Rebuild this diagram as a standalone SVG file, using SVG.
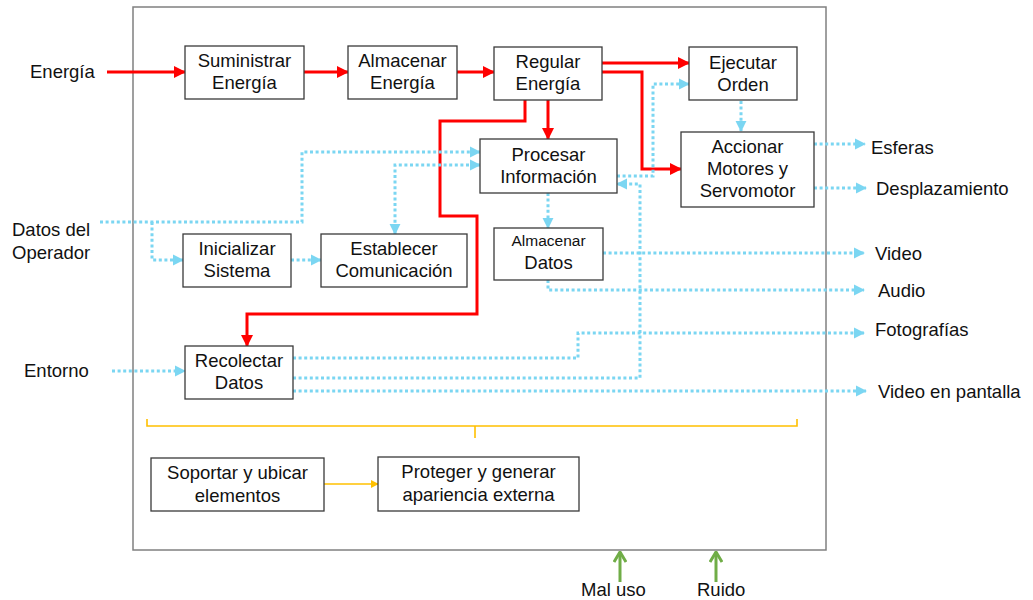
<svg xmlns="http://www.w3.org/2000/svg" width="1033" height="600" viewBox="0 0 1033 600">
<style>
text{font-family:"Liberation Sans",Arial,sans-serif;font-size:18.5px;fill:#111;text-anchor:middle}
.lbl{text-anchor:start}
.box{fill:#fff;stroke:#3a3a3a;stroke-width:1.3}
.red{fill:none;stroke:#ff0000;stroke-width:3}
.blue{fill:none;stroke:#7bd6f2;stroke-width:3;stroke-dasharray:3 2.6}
.yel{fill:none;stroke:#ffc000;stroke-width:1.6}
.grn{fill:none;stroke:#70ad47;stroke-width:3}
</style>
<defs>
<marker id="ar" viewBox="0 0 12 12" refX="11" refY="6" markerWidth="12" markerHeight="12" markerUnits="userSpaceOnUse" orient="auto"><path d="M0,0 L12,6 L0,12 z" fill="#ff0000"/></marker>
<marker id="ab" viewBox="0 0 12 12" refX="11" refY="6" markerWidth="11" markerHeight="12" markerUnits="userSpaceOnUse" orient="auto-start-reverse"><path d="M0,0 L12,6 L0,12 z" fill="#7bd6f2"/></marker>
<marker id="ay" viewBox="0 0 10 10" refX="9" refY="5" markerWidth="8" markerHeight="8" markerUnits="userSpaceOnUse" orient="auto"><path d="M0,0 L10,5 L0,10 z" fill="#ffc000"/></marker>
<marker id="ag" viewBox="0 0 12 14" refX="11" refY="7" markerWidth="12" markerHeight="14" markerUnits="userSpaceOnUse" orient="auto"><path d="M1,1 L11,7 L1,13" fill="none" stroke="#70ad47" stroke-width="3"/></marker>
</defs>
<rect id="frame" x="133" y="7" width="693" height="543" fill="#fff" stroke="#808080" stroke-width="1.5"/>
<g id="connectors">
<path class="red" d="M107,72 L185,72" marker-end="url(#ar)"/>
<path class="red" d="M304,72 L348,72" marker-end="url(#ar)"/>
<path class="red" d="M457,72 L494,72" marker-end="url(#ar)"/>
<path class="red" d="M602,63 L689,63" marker-end="url(#ar)"/>
<path class="red" d="M602,72 L642,72 L642,169 L681,169" marker-end="url(#ar)"/>
<path class="red" d="M548,100 L548,139" marker-end="url(#ar)"/>
<path class="red" d="M525,100 L525,121 L440,121 L440,216 L477,216 L477,314 L247,314 L247,346" marker-end="url(#ar)"/>
<path class="blue" d="M100,222 L302,222 L302,152 L480,152" marker-end="url(#ab)"/>
<path class="blue" d="M152,222 L152,260 L183,260" marker-end="url(#ab)"/>
<path class="blue" d="M291,260 L321,260" marker-end="url(#ab)"/>
<path class="blue" d="M395,234 L395,165 L480,165" marker-start="url(#ab)" marker-end="url(#ab)"/>
<path class="blue" d="M548,193 L548,228" marker-end="url(#ab)"/>
<path class="blue" d="M741,101 L741,131" marker-end="url(#ab)"/>
<path class="blue" d="M617,176 L653,176 L653,84 L689,84" marker-end="url(#ab)"/>
<path class="blue" d="M293,378 L640,378 L640,184 L617,184" marker-end="url(#ab)"/>
<path class="blue" d="M293,358 L578,358 L578,333 L864,333" marker-end="url(#ab)"/>
<path class="blue" d="M293,391 L866,391" marker-end="url(#ab)"/>
<path class="blue" d="M603,253 L864,253" marker-end="url(#ab)"/>
<path class="blue" d="M548,280 L548,290 L864,290" marker-end="url(#ab)"/>
<path class="blue" d="M814,144 L865,144" marker-end="url(#ab)"/>
<path class="blue" d="M814,188 L866,188" marker-end="url(#ab)"/>
<path class="blue" d="M112,371 L185,371" marker-end="url(#ab)"/>
<path class="yel" d="M147,419 L147,426 L797,426 L797,419 M475,426 L475,438"/>
<path class="yel" d="M324,484 L378,484" marker-end="url(#ay)"/>
<path class="grn" d="M620,582 L620,552" marker-end="url(#ag)"/>
<path class="grn" d="M716,582 L716,552" marker-end="url(#ag)"/>
</g>
<g id="n-suministrar"><rect class="box" x="185" y="46" width="119" height="53"/><text x="244.5" y="67">Suministrar</text><text x="244.5" y="89">Energía</text></g>
<g id="n-almacenar-energia"><rect class="box" x="348" y="46" width="109" height="53"/><text x="402.5" y="67">Almacenar</text><text x="402.5" y="89">Energía</text></g>
<g id="n-regular"><rect class="box" x="494" y="47" width="108" height="53"/><text x="548" y="68">Regular</text><text x="548" y="90">Energía</text></g>
<g id="n-ejecutar"><rect class="box" x="689" y="47" width="108" height="53"/><text x="743" y="69">Ejecutar</text><text x="743" y="91">Orden</text></g>
<g id="n-procesar"><rect class="box" x="480" y="139" width="137" height="54"/><text x="548.5" y="161">Procesar</text><text x="548.5" y="183">Información</text></g>
<g id="n-accionar"><rect class="box" x="681" y="132" width="133" height="75"/><text x="747.5" y="153">Accionar</text><text x="747.5" y="175">Motores y</text><text x="747.5" y="197">Servomotor</text></g>
<g id="n-inicializar"><rect class="box" x="183" y="234" width="108" height="53"/><text x="237" y="255">Inicializar</text><text x="237" y="277">Sistema</text></g>
<g id="n-establecer"><rect class="box" x="321" y="234" width="146" height="53"/><text x="394" y="255">Establecer</text><text x="394" y="277">Comunicación</text></g>
<g id="n-almacenar-datos"><rect class="box" x="494" y="228" width="109" height="52"/><text x="548.5" y="246" style="font-size:15.5px">Almacenar</text><text x="548.5" y="269">Datos</text></g>
<g id="n-recolectar"><rect class="box" x="185" y="346" width="108" height="53"/><text x="239" y="367">Recolectar</text><text x="239" y="389">Datos</text></g>
<g id="n-soportar"><rect class="box" x="151" y="458" width="173" height="53"/><text x="237.5" y="479">Soportar y ubicar</text><text x="237.5" y="502">elementos</text></g>
<g id="n-proteger"><rect class="box" x="378" y="457" width="201" height="54"/><text x="478.5" y="478">Proteger y generar</text><text x="478.5" y="501">apariencia externa</text></g>
<g id="labels">
<text class="lbl" x="30" y="78">Energía</text>
<text class="lbl" x="12" y="236">Datos del</text>
<text class="lbl" x="12" y="259">Operador</text>
<text class="lbl" x="24" y="377">Entorno</text>
<text class="lbl" x="871" y="154">Esferas</text>
<text class="lbl" x="876" y="195">Desplazamiento</text>
<text class="lbl" x="875" y="260">Video</text>
<text class="lbl" x="878" y="297">Audio</text>
<text class="lbl" x="875" y="336">Fotografías</text>
<text class="lbl" x="878" y="398">Video en pantalla</text>
<text class="lbl" x="581" y="596">Mal uso</text>
<text class="lbl" x="697" y="596">Ruido</text>
</g>
</svg>
